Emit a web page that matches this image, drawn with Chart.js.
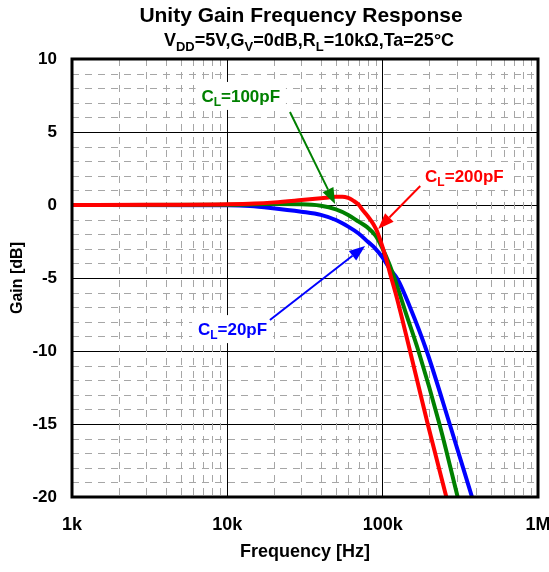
<!DOCTYPE html>
<html>
<head>
<meta charset="utf-8">
<script src="https://cdn.jsdelivr.net/npm/chart.js@4.4.1/dist/chart.umd.min.js"></script>
<style>
  body { margin: 0; background: #fff; }
  canvas { display: block; }
</style>
</head>
<body>
<canvas id="gainChart" width="549" height="572"></canvas>
<script>
// values (Hz / dB)
const freq200 = [1000, 3000, 10000, 15000, 20000, 30000, 40000, 50000, 55000, 60000, 65000, 70000, 75000, 80000, 87000, 92000, 100000, 106000, 113000, 123000, 150000, 195000, 257000];
const gain200 = [0, 0.01, 0.05, 0.1, 0.18, 0.34, 0.46, 0.56, 0.57, 0.48, 0.28, 0.02, -0.4, -0.75, -1.3, -1.8, -2.9, -3.8, -4.9, -6.3, -10, -15, -20];

const freq100 = [1000, 10000, 20000, 30000, 40000, 50000, 60000, 70000, 79000, 90000, 100000, 110000, 119000, 140000, 170000, 232000, 304000];
const gain100 = [0, 0.02, 0.06, 0.05, -0.05, -0.3, -0.68, -1.14, -1.5, -2.1, -3.0, -4.0, -5.0, -7.3, -10, -15, -20];

const freq20 = [1000, 10000, 14000, 19000, 30000, 40000, 50000, 60000, 70000, 80000, 90000, 100000, 110000, 125000, 150000, 192000, 270000, 376000];
const gain20 = [0, -0.02, -0.07, -0.2, -0.46, -0.68, -1.03, -1.48, -1.95, -2.5, -3.0, -3.6, -4.3, -5.1, -7.0, -10, -15, -20];

const xTicks = [1000, 10000, 100000, 1000000];
const xTickLabels = ['1k', '10k', '100k', '1M'];
const yMin = -20, yMax = 10, yStep = 5;

const FONT = '"Liberation Sans", Arial, sans-serif';

function toPoints(f, g) {
    return f.map((v, i) => ({ x: v, y: g[i] }));
}

// text with subscripts, parts = [[text, isSub], ...]
function drawRich(ctx, parts, cx, y, size, color, subRatio) {
    const subSize = Math.round(size * (subRatio || 0.7));
    let total = 0;
    parts.forEach(p => {
        ctx.font = 'bold ' + (p[1] ? subSize : size) + 'px ' + FONT;
        total += ctx.measureText(p[0]).width;
    });
    let x = cx - total / 2;
    ctx.fillStyle = color;
    ctx.textAlign = 'left';
    ctx.textBaseline = 'alphabetic';
    parts.forEach(p => {
        ctx.font = 'bold ' + (p[1] ? subSize : size) + 'px ' + FONT;
        ctx.fillText(p[0], x, p[1] ? y + size * 0.25 : y);
        x += ctx.measureText(p[0]).width;
    });
    return total;
}

function drawArrow(ctx, x1, y1, x2, y2, color) {
    const ang = Math.atan2(y2 - y1, x2 - x1);
    const len = 16, half = 6;
    const bx = x2 - len * Math.cos(ang), by = y2 - len * Math.sin(ang);
    ctx.strokeStyle = color;
    ctx.lineWidth = 2;
    ctx.beginPath();
    ctx.moveTo(x1, y1);
    ctx.lineTo(bx, by);
    ctx.stroke();
    ctx.fillStyle = color;
    ctx.beginPath();
    ctx.moveTo(x2, y2);
    ctx.lineTo(bx + half * Math.sin(ang), by - half * Math.cos(ang));
    ctx.lineTo(bx - half * Math.sin(ang), by + half * Math.cos(ang));
    ctx.closePath();
    ctx.fill();
}

// annotations in data coordinates
const notes = [
    { text: '=100pF', color: '#008000', at: [12200, 7.47], from: [25300, 6.37], to: [49400, 0.07] },
    { text: '=200pF', color: '#ff0000', at: [336000, 1.99], from: [174600, 1.3], to: [93500, -1.64] },
    { text: '=20pF', color: '#0000ff', at: [10800, -8.5], from: [18800, -7.88], to: [77100, -2.8] }
];

const framePlugin = {
    id: 'frame',
    beforeDatasetsDraw(chart) {
        const { ctx, chartArea: a, scales: { x, y } } = chart;
        ctx.save();
        ctx.strokeStyle = '#a6a6a6';
        ctx.lineWidth = 1;
        ctx.setLineDash([7, 6]);
        for (let d = 1000; d < 1000000; d *= 10) {
            for (let k = 2; k <= 9; k++) {
                const px = Math.round(x.getPixelForValue(k * d)) + 0.5;
                ctx.beginPath();
                ctx.moveTo(px, a.top);
                ctx.lineTo(px, a.bottom);
                ctx.stroke();
            }
        }
        for (let v = yMin + 1; v < yMax; v++) {
            if (v % yStep === 0) continue;
            const py = Math.round(y.getPixelForValue(v)) + 0.5;
            ctx.beginPath();
            ctx.moveTo(a.left, py);
            ctx.lineTo(a.right, py);
            ctx.stroke();
        }
        ctx.restore();
    },
    afterDatasetsDraw(chart) {
        const { ctx, chartArea: a, scales: { x, y } } = chart;
        ctx.save();
        ctx.setLineDash([]);
        ctx.strokeStyle = '#000';
        ctx.lineWidth = 3;
        ctx.strokeRect(a.left, a.top, a.right - a.left, a.bottom - a.top);

        notes.forEach(n => {
            const cx = x.getPixelForValue(n.at[0]);
            const cy = y.getPixelForValue(n.at[1]);
            const parts = [['C', false], ['L', true], [n.text, false]];
            ctx.font = 'bold 17px ' + FONT;
            let w = ctx.measureText('C' + n.text).width + 9;
            ctx.fillStyle = '#fff';
            ctx.fillRect(cx - w / 2 - 5, cy - 14, w + 10, 28);
            drawRich(ctx, parts, cx, cy + 6, 17, n.color);
            drawArrow(ctx, x.getPixelForValue(n.from[0]), y.getPixelForValue(n.from[1]),
                x.getPixelForValue(n.to[0]), y.getPixelForValue(n.to[1]), n.color);
        });

        // titles
        const mid = (a.left + a.right) / 2;
        ctx.font = 'bold 21px ' + FONT;
        ctx.fillStyle = '#000';
        ctx.textAlign = 'center';
        ctx.textBaseline = 'alphabetic';
        ctx.fillText('Unity Gain Frequency Response', mid - 4, 22);
        drawRich(ctx, [['V', false], ['DD', true], ['=5V,G', false], ['V', true], ['=0dB,R', false], ['L', true], ['=10kΩ,Ta=25°C', false]], mid + 4, 46, 18, '#000', 0.72);
        ctx.restore();
    }
};

const ctx = document.getElementById('gainChart').getContext('2d');

new Chart(ctx, {
    type: 'line',
    data: {
        datasets: [
            { label: 'CL=200pF', data: toPoints(freq200, gain200), borderColor: '#ff0000' },
            { label: 'CL=100pF', data: toPoints(freq100, gain100), borderColor: '#008000' },
            { label: 'CL=20pF', data: toPoints(freq20, gain20), borderColor: '#0000ff' }
        ]
    },
    options: {
        responsive: false,
        animation: false,
        layout: { padding: { top: 59, right: 11, left: 0, bottom: 0 } },
        elements: {
            point: { radius: 0 },
            line: { borderWidth: 4, cubicInterpolationMode: 'monotone', fill: false }
        },
        plugins: {
            legend: { display: false },
            title: { display: false },
            tooltip: { enabled: false }
        },
        scales: {
            x: {
                type: 'logarithmic',
                min: 1000,
                max: 1000000,
                afterBuildTicks: s => { s.ticks = xTicks.map(v => ({ value: v })); },
                afterFit: s => { s.height = 75; s.paddingLeft = 0; s.paddingRight = 0; },
                ticks: {
                    autoSkip: false,
                    maxRotation: 0,
                    padding: 17,
                    color: '#000',
                    font: { family: FONT, size: 18, weight: 'bold' },
                    callback: (v) => xTickLabels[xTicks.indexOf(v)]
                },
                grid: { color: '#000', lineWidth: 1, drawTicks: false },
                border: { display: false },
                title: {
                    display: true,
                    text: 'Frequency [Hz]',
                    color: '#000',
                    font: { family: FONT, size: 18, weight: 'bold' },
                    padding: { top: 0, bottom: 9 }
                }
            },
            y: {
                min: yMin,
                max: yMax,
                afterFit: s => { s.width = 72; s.paddingTop = 0; s.paddingBottom = 0; },
                ticks: {
                    stepSize: yStep,
                    padding: 15,
                    color: '#000',
                    font: { family: FONT, size: 17, weight: 'bold' }
                },
                grid: { color: '#000', lineWidth: 1, drawTicks: false },
                border: { display: false },
                title: {
                    display: true,
                    text: 'Gain [dB]',
                    color: '#000',
                    font: { family: FONT, size: 16, weight: 'bold' },
                    padding: { top: 8, bottom: 0 }
                }
            }
        }
    },
    plugins: [framePlugin]
});
</script>
</body>
</html>
